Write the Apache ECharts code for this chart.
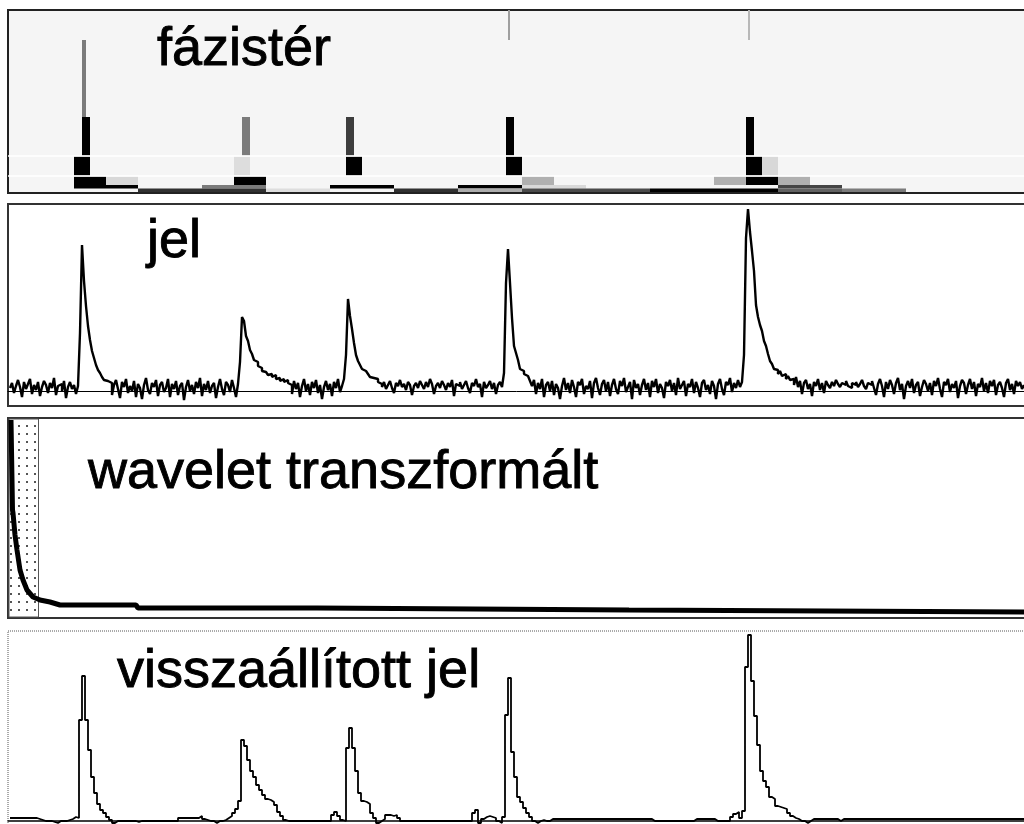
<!DOCTYPE html>
<html>
<head>
<meta charset="utf-8">
<script src="https://cdn.jsdelivr.net/npm/echarts/dist/echarts.min.js"></script>
<style>
html,body{margin:0;padding:0;background:#fff;}
#c{width:1024px;height:824px;}
</style>
</head>
<body>
<div id="c"></div>
<script>
// ---------- sample spacing (x units) ----------
const JEL_STEP = 2;
const REC_STEP = 3;

// ---------- panel 2: "jel" (noisy signal), segments in order ----------
const jelNoiseA = [3, 8, -2, 5, 11, 4, -6, 9, 2, 7,
  12, -3, 6, 1, 9, -5, 4, 10, 6, -2,
  8, 3, 13, -4, 5, 7, 0, 10, -7, 4,
  9, 2, 6, -3, 5];
const jelPeak1 = [58, 146, 110, 85, 65, 51, 40, 33, 26, 21, 18, 14, 11, 10, 8];
const jelNoiseB = [8, -4, 6, 11, 2, -7, 9, 4, 12, -2,
  5, 0, 10, -6, 7, 3, -8, 6, 13, 1,
  -3, 8, 4, 11, -5, 6, 9, -1, 3, 12,
  -6, 7, 2, 10, -4, 5, 8, -9, 4, 11,
  0, 6, -3, 9, 3, 13, -5, 7, 1, 10,
  -2, 5, 8, -7, 4, 12, 2, -4, 9, 6,
  -1, 11, 3, -6, 7];
const jelPeak2 = [29, 74, 70, 55, 50, 41, 37, 31, 29, 25, 23, 20, 19, 17, 16, 17, 14, 16, 12, 13, 10, 12, 9, 11, 8];
const jelNoiseC = [6, -3, 10, 2, 8, -6, 5, 12, 0, 7,
  -4, 9, 3, 11, -2, 6, -8, 4, 10, 1,
  7, -5, 9, 3, 12, -1, 5];
const jelPeak3 = [12, 36, 92, 75, 62, 48, 36, 30, 26, 22, 20, 18, 17, 14, 13, 11, 12, 9];
const jelNoiseD = [7, 4, 9, 2, 6, 10, 3, -2, 8, 5,
  11, 4, 7, 1, 9, 6, -4, 5, 8, 3,
  10, 6, 2, 9, 4, 12, 7, -3, 5, 8,
  3, 10, 6, 1, 8, 4, 11, -5, 7, 5,
  9, 2, 6, 10, 3, -2, 8, 5, 12, 4,
  7, -6, 9, 3, 6, 10, 2, 8, -3, 6,
  9, 4];
const jelPeak4 = [18, 108, 142, 108, 73, 45, 38, 31, 22, 20, 17, 15, 13, 10];
const jelNoiseE = [5, 11, -3, 8, 2, 12, -6, 6, 9, 0,
  10, -4, 7, 3, -8, 5, 13, 1, 8, -2,
  11, 4, -6, 9, 6, 12, -3, 5, 2, 10,
  -7, 8, 13, 3, -4, 7, 11, 0, 9, -5,
  6, 12, 2, -3, 10, 5, 13, -1, 4, 9,
  -8, 11, 3, 7, -4, 6, 12, 1, 8, -6,
  10, 4, 12, -2, 7, 3, -7, 9, 5, 11,
  0, 8, -4, 13, 2, 6, 10, -5, 7, 4,
  12, -2, 9, 3, -6, 8, 11, 1, 6, -3,
  10, 5, -8, 7, 12, 2, -4, 9, 6, 13,
  -1, 8, 3, 11, 4, 9];
const jelPeak5 = [36, 153, 182, 159, 140, 120, 86, 74, 66, 60, 50, 45, 37, 30, 27, 22, 21, 17, 20, 15, 17, 12, 15, 11];
const jelNoiseF = [12, 6, 14, 4, 10, -3, 8, 11, 2, 7,
  -5, 9, 5, 12, 1, 8, -2, 10, 6, 3,
  9, 5, 11, 7, 4, 8, 6, 10, 5, 3,
  8, 6, 9, 4, 7, 11, 5, 2, 8, 6,
  10, 3, -4, 7, 12, 5, -6, 9, 2, 11,
  6, -3, 8, 13, 1, 7, -8, 5, 10, 3,
  12, -2, 6, 9, -5, 4, 11, 7, 0, 8,
  -4, 10, 5, 13, 2, -6, 9, 6, 12, -1,
  7, 3, 10, -7, 5, 11, 8, -3, 6, 12,
  2, 9, -5, 7, 4, 13, 0, 8, -2, 10,
  5, 11, -4, 6, 9, 3, -6, 8, 12, 1,
  7, -3, 10, 5, 9, 2, 6];

// ---------- panel 4: "visszaállított jel" (reconstructed), segments ----------
const recA  = [3, 3, 3, 3, 3, 3, 3, 3, 3, 2, 1, 0, 0, 0, -1, -2, 0, 0, 0, 1, 2, 4, 3];
const recP1 = [101, 145, 101, 71, 44, 28, 17, 11, 8, 4, 1];
const recB  = [-2, 0, 0, 0, 0, 0, 0, 0, -1, 0, 0, 0, 0, 0, 0, 0, 0, 0, 0, 0, 0, 0, 3, 3, 3, 3, 3, 3, 3, 5, 2, 1, 0, 0, -2, 0, 0, 1, 3, 5, 8, 12];
const recP2 = [20, 81, 75, 61, 50, 44, 36, 31, 26, 22, 21, 19, 16, 9, 5, 1, 0, 0];
const recC  = [0, 0, 0, 0, 0, 0, 0, 0, 0, 0, 0, 0, 0, 6, 9, 5, 1];
const recP3 = [0, 73, 93, 73, 50, 28, 20, 19, 17, 8, 3, -2];
const recD  = [0, 2, 6, 6, 5, 6, 3, 0, 0, 0, 0, 0, 0, 0, 0, 0, 0, 0, 0, 0, 0, 0, 0, 0, 0, 0, 0, 0, 0, 0, 0, 8, 11, -2, 2, 4, 5, 4, 3, 0, -2];
const recP4 = [4, 106, 143, 69, 44, 24, 19, 13, 8, 4];
const recE  = [0, -2, 0, 1, 0, 0, 2, 2, 2, 2, 2, 2, 2, 2, 2, 2, 2, 2, 2, 2, 2, 2, 2, 2, 2, 2, 2, 2, 2, 2, 2, 2, 2, 2, 2, 2, 2, 2, 2, 2, 0, 0, 0, 0, 0, 0, 0, 0, 0, 0, 0, 0, 0, 0, 2, 2, 2, 2, 2, 2, 2, 0, 0, 0, 0, 0, 4, 7, 9, 3];
const recP5 = [10, 154, 186, 140, 105, 76, 50, 40, 34, 24, 22, 15, 14, 13, 12, 8, 5];
const recF  = [3, 2, 0, 0, -2, 0, 2, 2, 2, 2, 2, 2, 2, 2, 2, 0, 2, 2, 2, 2, 2, 2, 2, 2, 2, 2, 2, 2, 2, 2, 2, 2, 2, 2, 2, 2, 2, 2, 2, 2, 2, 2, 2, 2, 2, 2, 2, 2, 2, 2, 2, 2, 2, 2, 2, 2, 2, 2, 2, 2, 2, 2, 2, 2, 2, 2, 2, 2, 2, 2, 2, 2, 2, 2, 2, 2, 2, 2];

// ---------- panel 3: "wavelet transzformált" (sorted coefficient magnitudes) ----------
const wtRank  = [1, 2.5, 3, 5, 7, 10, 13, 17, 23, 30, 40, 50, 126, 128, 307, 309, 619, 621, 1024];
const wtValue = [194, 104, 101, 79, 64, 44, 34, 24, 17, 14, 12, 9, 9, 6, 6, 4, 4, 2, 2];

// ---------- panel 1: "fázistér" (time–scale tiles) ----------
// level: 0 = finest detail ... 5 = coarsest detail, 6 = approximation
const levelWidth = [2, 4, 8, 16, 32, 64, 64];
const levelBand  = [[153, 400], [76, 153], [37.5, 76], [17.5, 36.5], [8, 16.5], [4.5, 8], [1, 4.5]];
// [level, position index, magnitude 0..1]
const phaseCells = [
  [1, 18, 0.5], [2, 9, 1], [3, 4, 1], [4, 2, 1], [4, 3, 0.12], [5, 1, 1], [6, 2, 0.8], [5, 3, 0.5],
  [2, 29, 0.5], [3, 14, 0.1], [4, 7, 1], [6, 3, 0.8], [6, 4, 0.1],
  [2, 42, 0.75], [3, 21, 1], [5, 5, 1], [6, 6, 0.8],
  [0, 249, 0.35], [2, 62, 1], [3, 31, 1], [4, 16, 0.28], [5, 7, 1], [5, 8, 0.12], [6, 7, 0.3], [6, 8, 0.7], [6, 9, 0.7],
  [0, 369, 0.25], [2, 92, 1], [3, 46, 1], [3, 47, 0.12], [4, 22, 0.28], [4, 23, 1], [4, 24, 0.28], [5, 12, 0.72],
  [6, 10, 1], [6, 11, 1], [6, 12, 0.6], [6, 13, 0.5]
];
const bandSeparators = [37, 17];

// ---------- titles ----------
const titles = ['fázistér', 'jel', 'wavelet transzformált', 'visszaállított jel'];

// ---------- build ----------
const jel = [].concat(jelNoiseA, jelPeak1, jelNoiseB, jelPeak2, jelNoiseC, jelPeak3, jelNoiseD, jelPeak4, jelNoiseE, jelPeak5, jelNoiseF);
const rec = [].concat(recA, recP1, recB, recP2, recC, recP3, recD, recP4, recE, recP5, recF);
const jelData = jel.map((v, i) => [i * JEL_STEP, v]);
const recData = rec.map((v, i) => [i * REC_STEP, v]);
const wtData = wtRank.map((r, i) => [r, wtValue[i]]);

function dotPattern() {
  const c = document.createElement('canvas');
  c.width = 8; c.height = 8;
  const g = c.getContext('2d');
  g.fillStyle = '#ffffff'; g.fillRect(0, 0, 8, 8);
  g.fillStyle = '#555555'; g.fillRect(2, 1, 2, 2);
  return c;
}

const font = {fontSize: 54, fontWeight: 'normal', fontFamily: 'Liberation Sans, Arial, sans-serif', color: '#000',
  textBorderColor: '#000', textBorderWidth: 0.9};
const titlePos = [[157, 23], [147, 215], [88, 446], [117, 645]];

const gridCommon = {left: 8, width: 1026, show: true, outerBoundsMode: 'none', containLabel: false};

const chart = echarts.init(document.getElementById('c'), null, {renderer: 'canvas'});
const option = {
  animation: false,
  backgroundColor: '#ffffff',
  title: titles.map((t, i) => ({text: t, left: titlePos[i][0], top: titlePos[i][1], padding: 0, textStyle: font, z: 10})),
  visualMap: {
    type: 'continuous', show: false, seriesIndex: 0, dimension: 2, min: 0, max: 1,
    inRange: {color: ['#f5f5f5', '#000000']}
  },
  grid: [
    Object.assign({top: 10, height: 183, backgroundColor: '#f5f5f5', borderColor: '#222', borderWidth: 2}, gridCommon),
    Object.assign({top: 204, height: 202, backgroundColor: '#fff', borderColor: '#333', borderWidth: 2}, gridCommon),
    Object.assign({top: 418, height: 200, backgroundColor: '#fff', borderColor: '#333', borderWidth: 2}, gridCommon),
    Object.assign({top: 631, height: 203, backgroundColor: '#fff', borderColor: '#555', borderWidth: 1, borderType: 'dotted'}, gridCommon)
  ],
  xAxis: [0, 1, 2, 3].map(i => ({
    type: 'value', gridIndex: i, min: -2, max: 1024,
    show: i === 1 || i === 3,
    axisLine: {show: true, onZero: true, lineStyle: {color: '#000', width: i === 3 ? 1.5 : 1}},
    axisTick: {show: false}, axisLabel: {show: false}, splitLine: {show: false}
  })),
  yAxis: [[0, 183], [-15, 187], [-4, 196], [-13, 190]].map((r, i) => ({
    type: 'value', gridIndex: i, min: r[0], max: r[1], show: false, splitLine: {show: false}
  })),
  series: [
    {
      type: 'custom', xAxisIndex: 0, yAxisIndex: 0, clip: true,
      data: phaseCells,
      renderItem: function (params, api) {
        const lv = api.value(0), idx = api.value(1);
        const w = levelWidth[lv];
        const band = levelBand[lv];
        const p0 = api.coord([idx * w, band[1]]);
        const p1 = api.coord([(idx + 1) * w, band[0]]);
        return {
          type: 'rect',
          shape: {x: p0[0], y: p0[1], width: p1[0] - p0[0], height: p1[1] - p0[1]},
          style: {fill: api.visual('color')}
        };
      },
      markLine: {
        silent: true, symbol: 'none', label: {show: false},
        lineStyle: {color: '#ffffff', width: 1.5, type: 'solid'},
        data: bandSeparators.map(v => ({yAxis: v}))
      }
    },
    {
      type: 'line', xAxisIndex: 1, yAxisIndex: 1, data: jelData, step: 'end',
      symbol: 'none', lineStyle: {color: '#000', width: 2.4}
    },
    {
      type: 'line', xAxisIndex: 2, yAxisIndex: 2, data: wtData,
      symbol: 'none', lineStyle: {color: '#000', width: 5},
      markArea: {
        silent: true,
        itemStyle: {color: {image: dotPattern(), repeat: 'repeat'}, borderColor: '#555', borderWidth: 1},
        data: [[{xAxis: -1, yAxis: -3}, {xAxis: 28.5, yAxis: 195}]]
      }
    },
    {
      type: 'line', xAxisIndex: 3, yAxisIndex: 3, data: recData, step: 'end',
      symbol: 'none', lineStyle: {color: '#000', width: 1.8}
    }
  ]
};
chart.setOption(option);
</script>
</body>
</html>
